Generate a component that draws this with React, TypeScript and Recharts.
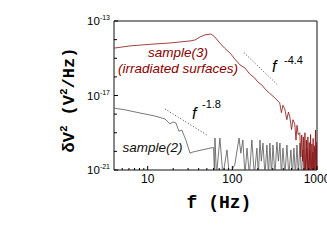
import React from "react";
import { LineChart, Line, XAxis, YAxis, ReferenceLine, ReferenceArea } from "recharts";

// sample(3), irradiated surfaces
const freq3 = [4, 6.2, 10.6, 18.3, 31.6, 36, 41.6, 47.5, 56, 62, 71, 81, 94, 107, 123, 141, 161, 184, 200, 224, 249, 274, 318, 363, 380, 396, 417, 440, 460, 478, 500, 520, 546, 565, 580, 600, 626, 645, 660, 675, 690, 705, 720, 735, 750, 765, 780, 795, 810, 825, 840, 855, 870, 885, 900, 915, 930, 945, 960, 975, 990, 1000];
const psd3 = [3.5e-15, 4.6e-15, 5.6e-15, 6.6e-15, 8.5e-15, 9.5e-15, 1.4e-14, 1.8e-14, 2.0e-14, 1.4e-14, 6.6e-15, 3.5e-15, 1.9e-15, 9e-16, 4.4e-16, 3e-16, 1.4e-16, 8.7e-17, 5.3e-17, 3.6e-17, 2e-17, 1.35e-17, 7.4e-18, 4e-18, 1.2e-18, 3e-18, 1.9e-18, 5e-19, 1.3e-18, 7e-19, 1.5e-19, 5e-19, 3e-19, 4e-20, 2.5e-19, 8e-20, 1e-19, 5e-21, 7.6e-20, 3e-21, 6e-20, 5e-22, 1e-19, 5e-22, 4e-20, 5e-22, 6e-20, 5e-22, 3e-20, 5e-22, 8e-20, 5e-22, 2.5e-20, 5e-22, 5e-20, 5e-22, 2e-20, 5e-22, 1.4e-19, 5e-22, 3e-20, 5e-22];

// sample(2)
const freq2 = [4, 5.4, 8.1, 12.2, 16, 18.3, 19.9, 21.6, 23.4, 25.3, 28.3, 31.6, 34.3, 54.5, 60, 61.5, 62.3, 65, 71.3, 77.4, 86.4, 92, 107, 120, 126, 133, 141, 149, 159, 170, 182, 195, 203, 212, 220, 230, 243, 256, 267, 278, 290, 302, 318, 336, 350, 365, 380, 396, 418, 441, 465, 492, 512, 534, 556, 580, 603, 628, 655, 681, 720, 760, 791, 824, 859, 894, 930, 970, 1000];
const psd2 = [2.1e-18, 1.7e-18, 1.15e-18, 7.9e-19, 5.5e-19, 3e-19, 3.8e-19, 3.3e-19, 1.2e-19, 1.4e-19, 4e-20, 8e-21, 9.3e-21, 1.5e-20, 1.6e-20, 5e-22, 5.2e-20, 5e-22, 5.2e-20, 5e-22, 1.2e-20, 5e-22, 2e-21, 5.2e-20, 8e-21, 4.1e-20, 5e-22, 1.5e-20, 5e-22, 4.1e-20, 5e-22, 1.5e-20, 5e-22, 4.1e-20, 3e-21, 2.8e-20, 5e-22, 2.2e-20, 5e-22, 2.8e-20, 5e-22, 2.2e-20, 5e-22, 3.2e-20, 3e-21, 2.8e-20, 5e-22, 1.5e-20, 5e-22, 2.2e-20, 5e-22, 1.2e-20, 5e-22, 1.5e-20, 5e-22, 2.2e-20, 5e-22, 2.8e-20, 5e-22, 1.2e-20, 5e-22, 1.5e-20, 5e-22, 1.2e-20, 5e-22, 9.3e-21, 5e-22, 1.5e-20, 5e-22];

const xTicks = [5, 6, 7, 8, 9, 10, 20, 30, 40, 50, 60, 70, 80, 90, 100, 200, 300, 400, 500, 600, 700, 800, 900, 1000];
const xLabels = [10, 100, 1000];
const yTicks = [1e-21, 1e-20, 1e-19, 1e-18, 1e-17, 1e-16, 1e-15, 1e-14, 1e-13];
const yLabels = [-21, -17, -13];

const sample3 = freq3.map((f, i) => ({ f, v: psd3[i] }));
const sample2 = freq2.map((f, i) => ({ f, v: psd2[i] }));

const sans = "Liberation Sans, Arial, sans-serif";
const mono = "Liberation Mono, Courier New, monospace";

const XTick = (props: any) => {
  const { x, y, payload } = props;
  const major = xLabels.includes(payload.value);
  return (
    <g>
      <line x1={x} x2={x} y1={y} y2={y - (major ? 4 : 2)} stroke="#000" />
      {major && (
        <text x={x} y={y + 13} textAnchor="middle" fontFamily={sans} fontSize={12} fill="#000">
          {payload.value}
        </text>
      )}
    </g>
  );
};

const YTick = (props: any) => {
  const { x, y, payload } = props;
  const e = Math.round(Math.log10(payload.value));
  const major = yLabels.includes(e);
  return (
    <g>
      <line x1={x} x2={x + (major ? 4 : 3)} y1={y} y2={y} stroke="#000" />
      {major && (
        <text x={x - 4} y={y + 4} textAnchor="end" fontFamily={sans} fontSize={11.5} fill="#000">
          10<tspan dy={-5} fontSize={7}>{e}</tspan>
        </text>
      )}
    </g>
  );
};

export default function App() {
  return (
    <div style={{ position: "absolute", left: 0, top: 0, width: 327, height: 250, background: "#fff" }}>
      <LineChart width={327} height={250} margin={{ top: 21, right: 10, left: 64, bottom: 50 }}>
        <XAxis
          dataKey="f"
          type="number"
          scale="log"
          domain={[4, 1000]}
          allowDataOverflow
          ticks={xTicks}
          interval={0}
          tickSize={0}
          tickMargin={0}
          axisLine={false}
          tickLine={false}
          tick={<XTick />}
          height={30}
        />
        <YAxis
          type="number"
          scale="log"
          domain={[1e-21, 1e-13]}
          allowDataOverflow
          ticks={yTicks}
          interval={0}
          tickSize={0}
          tickMargin={0}
          axisLine={false}
          tickLine={false}
          tick={<YTick />}
          width={50}
        />
        <ReferenceArea x1={4} x2={1000} y1={1e-21} y2={1e-13} fill="none" stroke="#111" strokeWidth={1} />
        <ReferenceLine segment={[{ x: 137, y: 2e-15 }, { x: 345, y: 3.6e-17 }]} stroke="#444" strokeDasharray="1 2" />
        <ReferenceLine segment={[{ x: 16, y: 1.9e-18 }, { x: 50, y: 7.6e-20 }]} stroke="#444" strokeDasharray="1 2" />
        <Line data={sample2} dataKey="v" type="linear" stroke="#555" strokeWidth={0.8} dot={false} isAnimationActive={false} />
        <Line data={sample3} dataKey="v" type="linear" stroke="#8b1010" strokeWidth={0.8} dot={false} isAnimationActive={false} />
      </LineChart>
      <svg width={327} height={250} style={{ position: "absolute", left: 0, top: 0, pointerEvents: "none" }}>
        <text transform="translate(74,100) rotate(-90)" textAnchor="middle" fontFamily={mono} fontWeight="bold" fontSize={17} fill="#000">
          δV<tspan dy={-7} fontSize={11}>2</tspan>
          <tspan dx={10} dy={7}>(V</tspan>
          <tspan dy={-7} fontSize={11}>2</tspan>
          <tspan dy={7}>/Hz)</tspan>
        </text>
        <text x={219} y={208} textAnchor="middle" fontFamily={mono} fontWeight="bold" fontSize={18} fill="#000">
          f (Hz)
        </text>
        <text x={178} y={57} textAnchor="middle" fontFamily={sans} fontStyle="italic" fontSize={13.5} fill="#8b0000">
          sample(3)
        </text>
        <text x={178} y={73} textAnchor="middle" fontFamily={sans} fontStyle="italic" fontSize={13.5} fill="#8b0000">
          (irradiated surfaces)
        </text>
        <text x={152.5} y={152} textAnchor="middle" fontFamily={sans} fontStyle="italic" fontSize={13.5} fill="#111">
          sample(2)
        </text>
        <text x={272} y={72} fontFamily={sans} fontStyle="italic" fontSize={16} fill="#000">f</text>
        <text x={284} y={64} fontFamily={sans} fontSize={11} fill="#000">-4.4</text>
        <text x={192} y={119} fontFamily={sans} fontStyle="italic" fontSize={16} fill="#000">f</text>
        <text x={202} y={108} fontFamily={sans} fontSize={11} fill="#000">-1.8</text>
      </svg>
    </div>
  );
}
